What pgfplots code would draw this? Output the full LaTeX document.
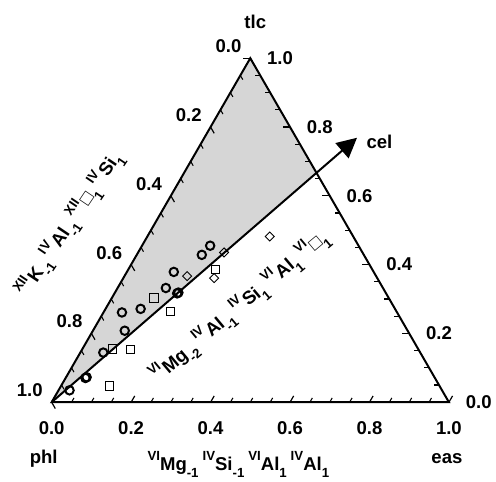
\documentclass[border=0pt]{standalone}
\usepackage{pgfplots}
\pgfplotsset{compat=1.18}
\usetikzlibrary{arrows.meta}
\usepackage{fontspec}
\setmainfont{Liberation Sans}
\definecolor{fillgrey}{RGB}{214,214,214}
\newcommand\up[1]{\raisebox{0.5em}{\fontsize{10}{10}\selectfont #1}}
\newcommand\dn[1]{\raisebox{-0.4em}{\fontsize{10}{10}\selectfont #1}}
\begin{document}
\begin{tikzpicture}[font=\fontsize{14}{16}\selectfont\bfseries]
\begin{axis}[scale only axis, width=372pt, height=362.25pt,
  xmin=-0.13, xmax=1.11, ymin=-0.195, ymax=1.0125,
  axis lines=none, clip=false]
\path (rel axis cs:0,0) rectangle (rel axis cs:1,1);
% shaded region
\addplot[fill=fillgrey, draw=none] coordinates {(0,0) (0.5,0.8660) (0.6667,0.5774)} -- cycle;
% triangle
\addplot[black, line width=1.5pt, line join=miter] coordinates {(0,0) (1,0) (0.5,0.8660)} -- cycle;
% cel arrow
\addplot[black, line width=1.5pt, -{Triangle[length=15pt,width=15pt]}] coordinates {(0,0) (0.7686,0.6657)};
% ticks
\pgfplotsinvokeforeach{0.05,0.1,0.15,0.25,0.3,0.35,0.45,0.5,0.55,0.65,0.7,0.75,0.85,0.9,0.95}{
  \draw[line width=0.8pt] (axis cs:#1,0) -- ++(60:3.75pt);
  \draw[line width=0.8pt] (axis cs:{1-0.5*#1},{0.8660*#1}) -- ++(180:3.75pt);
  \draw[line width=0.8pt] (axis cs:{0.5*(1-#1)},{0.8660*(1-#1)}) -- ++(-60:3.75pt);
}
\pgfplotsinvokeforeach{0,0.2,0.4,0.6,0.8,1}{
  \draw[line width=0.9pt] (axis cs:#1,0) -- ++(60:5.5pt);
  \draw[line width=0.9pt] (axis cs:{1-0.5*#1},{0.8660*#1}) -- ++(180:5.5pt);
  \draw[line width=0.9pt] (axis cs:{0.5*(1-#1)},{0.8660*(1-#1)}) -- ++(-60:5.5pt);
}
% tick labels: bottom
\node at (axis cs:0,-0.064) {0.0};
\node at (axis cs:0.2,-0.064) {0.2};
\node at (axis cs:0.4,-0.064) {0.4};
\node at (axis cs:0.6,-0.064) {0.6};
\node at (axis cs:0.8,-0.064) {0.8};
\node at (axis cs:1,-0.064) {1.0};
% right edge (tlc fraction)
\node at (axis cs:1.075,0) {0.0};
\node at (axis cs:0.975,0.1732) {0.2};
\node at (axis cs:0.875,0.3464) {0.4};
\node at (axis cs:0.775,0.5196) {0.6};
\node at (axis cs:0.675,0.6928) {0.8};
\node at (axis cs:0.575,0.8660) {1.0};
% left edge (phl fraction)
\node at (axis cs:-0.055,0.03) {1.0};
\node at (axis cs:0.045,0.2032) {0.8};
\node at (axis cs:0.145,0.3764) {0.6};
\node at (axis cs:0.245,0.5496) {0.4};
\node at (axis cs:0.345,0.7228) {0.2};
\node at (axis cs:0.445,0.8960) {0.0};
% data
\addplot[only marks, mark=o, mark size=3.2pt, line width=1.5pt] coordinates {
(0.045,0.030) (0.085,0.061) (0.088,0.063) (0.130,0.125) (0.184,0.180)
(0.177,0.226) (0.224,0.235) (0.2875,0.2875) (0.316,0.274) (0.319,0.276)
(0.3075,0.328) (0.378,0.371) (0.399,0.394)};
\addplot[only marks, mark=square, mark size=3.1pt, line width=0.7pt] coordinates {
(0.145,0.041) (0.1525,0.134) (0.199,0.132) (0.2575,0.2625) (0.299,0.228) (0.412,0.335)};
\addplot[only marks, mark=square, mark size=2.4pt, line width=0.7pt, mark options={rotate=45}] coordinates {
(0.341,0.3175) (0.434,0.377) (0.409,0.3125) (0.549,0.417)};
% labels
\node at (axis cs:0.5125,0.9575) {tlc};
\node at (axis cs:-0.02,-0.142) {phl};
\node at (axis cs:0.995,-0.142) {eas};
\node at (axis cs:0.825,0.656) {cel};
\node at (axis cs:0.47,-0.157) {\up{VI}Mg\dn{-1}\hspace{3pt}\up{IV}Si\dn{-1}\hspace{3pt}\up{VI}Al\dn{1}\hspace{3pt}\up{IV}Al\dn{1}};
\node[rotate=56] at (axis cs:0.046,0.4475) {\up{XII}\hspace{1pt}K\dn{-1}\hspace{2pt}\up{IV}\hspace{1pt}Al\dn{-1}\hspace{2pt}\up{XII}\hspace{1pt}□\dn{1}\hspace{2pt}\up{IV}\hspace{1pt}Si\dn{1}};
\node[rotate=40] at (axis cs:0.474,0.2395) {\up{VI}\hspace{1pt}Mg\dn{-2}\hspace{3pt}\up{IV}\hspace{1pt}Al\dn{-1}\hspace{3pt}\up{IV}\hspace{1pt}Si\dn{1}\hspace{3pt}\up{VI}\hspace{1pt}Al\dn{1}\hspace{3pt}\up{VI}\hspace{1pt}□\dn{1}};
\end{axis}
\end{tikzpicture}
\end{document}
